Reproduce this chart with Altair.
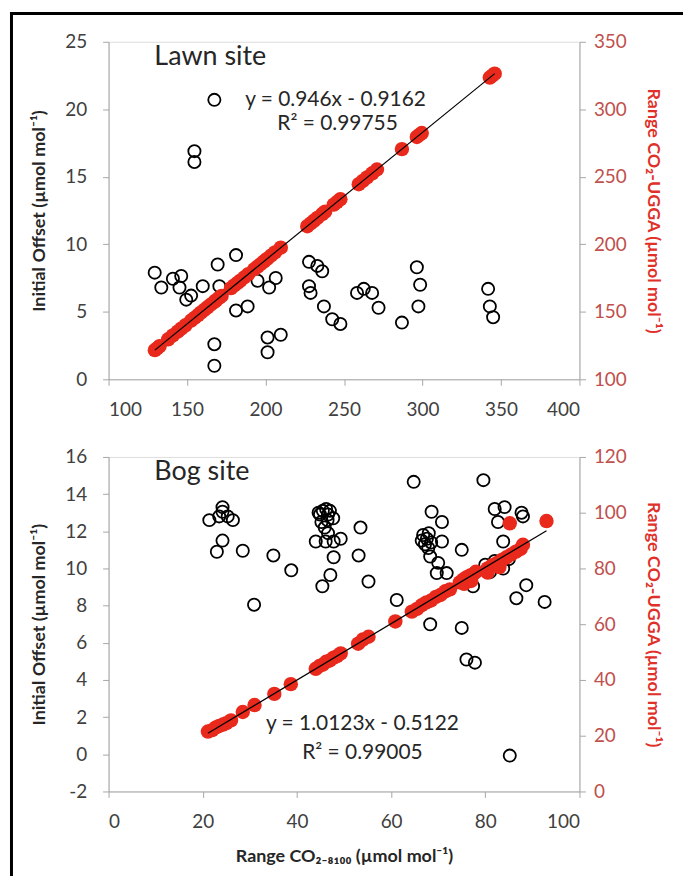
import altair as alt
import pandas as pd

# ---------------- Lawn site ----------------
lawn_open_x = [129.4, 133.6, 141.0, 146.3, 145.2, 149.5, 152.6, 154.7, 154.7, 160.0,
               167.4, 169.5, 170.6, 167.4, 167.4, 181.2, 181.2, 188.6, 194.9, 202.3,
               206.5, 201.3, 209.7, 201.3, 227.7, 233.0, 236.1, 227.7, 228.7, 237.2,
               242.5, 247.7, 258.3, 262.6, 267.9, 272.0, 286.9, 296.4, 298.5, 297.4,
               341.8, 342.9, 345.0]
lawn_open_y = [7.9, 6.8, 7.45, 7.65, 6.8, 5.9, 6.2, 16.9, 16.1, 6.9,
               20.7, 8.5, 6.9, 2.6, 1.0, 9.2, 5.1, 5.4, 7.3, 6.8,
               7.5, 3.1, 3.3, 2.0, 8.7, 8.4, 8.0, 6.9, 6.4, 5.4,
               4.45, 4.1, 6.4, 6.7, 6.4, 5.3, 4.2, 8.3, 7.0, 5.4,
               6.7, 5.4, 4.6]

lawn_red_x = [129.5, 131.0, 132.5, 138.0, 141.0, 144.0, 146.3, 149.0, 152.6, 155.0,
              157.0, 159.0, 161.0, 163.0, 165.0, 167.4, 168.5, 170.6, 172.0, 178.0,
              180.1, 182.2, 184.0, 186.4, 189.0, 192.8, 195.0, 197.0, 199.1, 201.0,
              203.4, 206.0, 209.7, 226.6, 228.7, 230.8, 233.0, 236.1, 238.0, 243.5,
              245.5, 247.7, 259.4, 262.0, 264.7, 268.0, 271.0, 286.9, 296.4, 298.0,
              299.5, 342.9, 344.5, 346.0]
lawn_red_y = [121.6, 123.0, 124.5, 129.6, 132.5, 135.3, 137.5, 140.0, 143.5, 145.7,
              147.6, 149.5, 151.4, 153.3, 155.2, 157.4, 158.5, 160.5, 161.8, 167.5,
              169.5, 171.4, 173.1, 175.4, 177.9, 181.5, 183.5, 185.4, 187.4, 189.2,
              191.5, 194.0, 197.5, 213.4, 215.4, 217.4, 219.5, 222.4, 224.2, 229.4,
              231.3, 233.4, 244.5, 246.9, 249.5, 252.6, 255.4, 270.5, 279.5, 281.0,
              282.4, 323.5, 325.0, 326.4]

# ---------------- Bog site ----------------
bog_open_x = [24.2, 21.4, 24.2, 25.3, 26.4, 23.5, 24.2, 23.0, 28.5, 35.0, 38.8, 30.9,
              64.8, 79.6,
              44.6, 45.5, 46.6, 47.0, 45.2, 46.5, 47.7, 45.9, 44.9, 46.2,
              44.0, 46.1, 47.8, 49.3, 46.6, 47.8, 47.1, 45.4, 53.5, 53.1, 55.2, 61.2,
              66.8, 67.6, 68.5, 67.2, 66.5, 68.0, 67.9,
              68.6, 70.8, 70.8, 68.3, 70.0, 69.7, 71.8, 75.0, 68.3, 75.0, 76.0, 77.8,
              82.0, 84.1, 82.7, 87.7, 88.0, 83.8, 83.8, 88.7, 86.6, 92.6, 85.2, 77.4,
              80.0, 82.0, 85.0, 81.0]
bog_open_y = [13.3, 12.6, 13.05, 12.8, 12.6, 12.8, 11.5, 10.9, 10.95, 10.7, 9.9, 8.05,
              14.66, 14.75,
              13.0, 13.1, 12.9, 13.1, 12.5, 12.6, 12.7, 12.2, 12.9, 13.2,
              11.45, 11.45, 11.45, 11.6, 11.9, 10.6, 9.65, 9.04, 12.2, 10.7, 9.3, 8.3,
              11.8, 11.6, 11.4, 11.3, 11.5, 11.9, 11.1,
              13.05, 12.5, 11.45, 10.64, 10.3, 9.75, 9.75, 11.0, 7.0, 6.8, 5.1, 4.93,
              13.2, 13.3, 12.5, 13.0, 12.8, 11.45, 10.0, 9.1, 8.4, 8.2, -0.07, 9.04,
              10.2, 10.4, 10.5, 9.8]

bog_red_x = [21.1, 22.0, 22.8, 23.5, 24.3, 25.0, 26.0, 28.5, 31.0, 35.2, 38.7,
             44.0, 44.8, 45.5, 46.2, 47.0, 47.8, 48.5, 49.3,
             53.0, 54.0, 55.2,
             60.9, 64.4, 65.5, 66.5, 67.5, 68.5, 69.5, 70.5, 71.5, 72.5,
             74.6, 75.3, 76.0, 76.8, 77.5, 78.0, 75.5, 77.0,
             80.5, 81.5, 82.5, 83.5, 84.5, 85.5, 86.5, 87.5, 88.0, 83.0, 80.5,
             85.2, 93.0]
bog_red_y = [21.5, 22.0, 23.0, 23.5, 24.0, 24.5, 25.5, 28.5, 31.0, 35.0, 38.5,
             44.0, 45.0, 45.5, 46.5, 47.0, 48.0, 48.5, 49.5,
             53.0, 54.5, 55.5,
             61.0, 64.5, 65.5, 66.8, 67.8, 68.5, 69.8, 70.5, 71.8, 72.5,
             75.0, 76.0, 76.8, 77.5, 78.0, 78.8, 74.5, 75.5,
             80.0, 81.2, 82.0, 83.0, 84.0, 85.0, 86.0, 87.0, 88.5, 80.5, 78.5,
             96.2, 97.0]

lawn_x_ticks = [100, 150, 200, 250, 300, 350, 400]
lawn_left_ticks = [0, 5, 10, 15, 20, 25]
lawn_right_ticks = [100, 150, 200, 250, 300, 350]
bog_x_ticks = [0, 20, 40, 60, 80, 100]
bog_left_ticks = [-2, 0, 2, 4, 6, 8, 10, 12, 14, 16]
bog_right_ticks = [0, 20, 40, 60, 80, 100, 120]

FONT = "Lato"
AXIS_GRAY = "#a6a6a6"
RED = "#e8291c"
RED_LABEL = "#c0504d"
RED_TITLE = "#e0302a"
PW, PH_TOP, PH_BOT = 473, 339, 336

left_title = "Initial Offset (µmol mol⁻¹)"
right_title = "Range CO₂-UGGA (µmol mol⁻¹)"
x_title = "Range CO₂₋₈₁₀₀ (µmol mol⁻¹)"


def base_axis(**kw):
    d = dict(grid=False, domainColor=AXIS_GRAY, tickColor=AXIS_GRAY, tickSize=6,
             labelFont=FONT, labelFontSize=19, labelColor="#404040",
             labelExpr="'' + datum.value",
             titleFont=FONT, titleFontSize=18, titleFontWeight="bold",
             titleColor="#262626")
    d.update(kw)
    return alt.Axis(**d)


def panel(open_x, open_y, red_x, red_y, xdom, xt, ldom, lt, rdom, rt,
          site, show_xtitle, frame=False):
    dopen = pd.DataFrame({"x": open_x, "y": open_y})
    dred = pd.DataFrame({"x": red_x, "y": red_y})
    xenc = alt.X("x:Q", scale=alt.Scale(domain=xdom, nice=False, zero=False),
                 axis=base_axis(values=xt, labelPadding=15,
                                title=x_title if show_xtitle else None,
                                titlePadding=16))
    opn = alt.Chart(dopen).mark_point(shape="circle", filled=False, color="black",
                                       size=150, strokeWidth=1.8, opacity=1).encode(
        x=xenc,
        y=alt.Y("y:Q", scale=alt.Scale(domain=ldom, nice=False, zero=False),
                axis=base_axis(values=lt, orient="left", title=left_title,
                               labelPadding=16, titlePadding=16)))
    one = pd.DataFrame({"a": [0]})
    site_txt = alt.Chart(one).mark_text(font=FONT, fontSize=27, align="left",
                                        baseline="middle", color="#262626").encode(
        x=alt.value(46), y=alt.value(15), text=alt.value(site))
    left_layers = [opn, site_txt]
    if frame:
        vline = alt.Chart(one).mark_rule(color="black", strokeWidth=3).encode(
            x=alt.value(-97.5), y=alt.value(-30), y2=alt.value(838))
        hline = alt.Chart(one).mark_rule(color="black", strokeWidth=3).encode(
            x=alt.value(-99), x2=alt.value(577), y=alt.value(-28.5))
        left_layers += [vline, hline]
    left = alt.layer(*left_layers)

    yr = alt.Y("y:Q", scale=alt.Scale(domain=rdom, nice=False, zero=False),
               axis=base_axis(values=rt, orient="right", title=right_title,
                              labelColor=RED_LABEL, titleColor=RED_TITLE,
                              labelPadding=8, titlePadding=17))
    red = alt.Chart(dred).mark_circle(color=RED, size=210, opacity=1).encode(
        x=alt.X("x:Q"), y=yr)
    line = alt.Chart(dred).transform_regression("x", "y").mark_line(
        color="black", strokeWidth=1.2).encode(x="x:Q", y="y:Q")
    right = alt.layer(red, line)
    return left, right


lawn_left, lawn_right = panel(lawn_open_x, lawn_open_y, lawn_red_x, lawn_red_y,
                              [100, 400], lawn_x_ticks, [0, 25], lawn_left_ticks,
                              [100, 350], lawn_right_ticks, "Lawn site", False,
                              frame=True)
bog_left, bog_right = panel(bog_open_x, bog_open_y, bog_red_x, bog_red_y,
                            [0, 100], bog_x_ticks, [-2, 16], bog_left_ticks,
                            [0, 120], bog_right_ticks, "Bog site", True)

one = pd.DataFrame({"a": [0]})


def txt(s, x, y, size=21):
    return alt.Chart(one).mark_text(font=FONT, fontSize=size, align="center",
                                    baseline="middle", color="#262626").encode(
        x=alt.value(x), y=alt.value(y), text=alt.value(s))


top = alt.layer(
    alt.layer(lawn_left, txt("y = 0.946x - 0.9162", 228, 59), txt("R² = 0.99755", 230, 83)),
    lawn_right,
).resolve_scale(y="independent").properties(width=PW, height=PH_TOP)

bottom = alt.layer(
    alt.layer(bog_left, txt("y = 1.0123x - 0.5122", 255, 268), txt("R² = 0.99005", 255, 297)),
    bog_right,
).resolve_scale(y="independent").properties(width=PW, height=PH_BOT)

chart = alt.vconcat(top, bottom, spacing=78, bounds="flush").properties(
    padding=0
).configure_view(stroke=None).configure(background="white")

chart.save("out.html", embed_options={"renderer": "svg", "actions": False})
